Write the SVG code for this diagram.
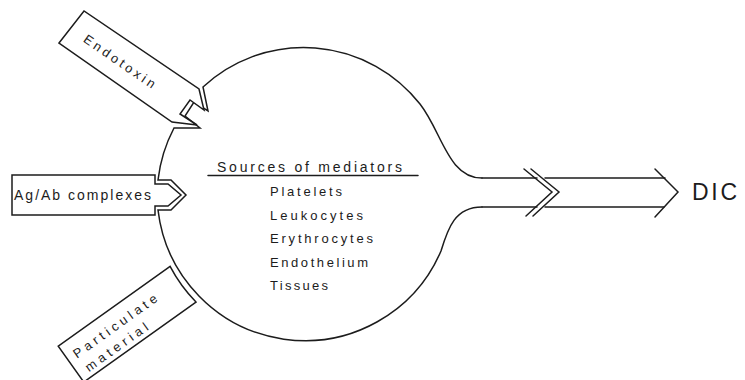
<svg xmlns="http://www.w3.org/2000/svg" width="745" height="380" viewBox="0 0 745 380">
<style>
.ln{fill:none;stroke:#1c1c1c;stroke-width:1.5;stroke-linejoin:miter;stroke-linecap:round}
.bx{fill:#fff;stroke:#1c1c1c;stroke-width:1.5;stroke-linejoin:miter}
.t{font-family:"Liberation Sans",Arial,sans-serif;font-size:13px;fill:#1c1c1c}
.t14{font-size:14px}
.big{font-size:23px}
</style>
<rect width="745" height="380" fill="#fff"/>
<g id="circle">
<path class="ln" d="M482,178 C448,178 442,132 420,104 A148,148 0 0 0 203,87 L208,111 L194,102 L185,116 L200,128 L174,128 A148,148 0 0 0 158,180 L171,180 L186,195 L171,210 L158,210 A148,148 0 0 0 441,251 C448,228 455,207 482,207"/>
<text class="t t14" x="217" y="172" textLength="185" lengthAdjust="spacing">Sources of mediators</text>
<line class="ln" x1="208" y1="175.5" x2="418" y2="175.5" stroke-width="1.3"/>
<text class="t" x="270" y="196" textLength="72" lengthAdjust="spacing">Platelets</text>
<text class="t" x="270" y="219.5" textLength="93" lengthAdjust="spacing">Leukocytes</text>
<text class="t" x="270" y="243" textLength="103" lengthAdjust="spacing">Erythrocytes</text>
<text class="t" x="270" y="266.5" textLength="98" lengthAdjust="spacing">Endothelium</text>
<text class="t" x="270" y="290" textLength="58" lengthAdjust="spacing">Tissues</text>
</g>
<g id="endotoxin">
<path class="bx" d="M59,43 L84,11 L199,89 L204,110 L190,100 L180,114 L197,125 L172,122 Z"/>
<text class="t" transform="translate(117,65) rotate(34.5)" text-anchor="middle" textLength="84" lengthAdjust="spacing">Endotoxin</text>
</g>
<g id="agab">
<path class="bx" d="M12,175 L155,175 L155,184 L168,184 L181,195 L168,206 L155,206 L155,215 L12,215 Z"/>
<text class="t t14" x="14" y="199.5" textLength="137" lengthAdjust="spacing">Ag/Ab complexes</text>
</g>
<g id="particulate" transform="translate(128,323.5) rotate(-35.5)">
<path class="bx" d="M67.4,-22 L-70,-22 L-70,22 L67.8,22 A151,151 0 0 1 67.4,-22 Z"/>
<text class="t" x="-62" y="-1" textLength="100" lengthAdjust="spacing">Particulate</text>
<text class="t" x="-60" y="17" textLength="74" lengthAdjust="spacing">material</text>
</g>
<g id="connectors">
<path class="ln" d="M482,178 L537,178 M545,178 L665,178 M482,207 L537,207 M545,207 L664,207"/>
<path class="ln" d="M524,169 L552,192 L526,216 M531,169 L559,192 L533,216"/>
<path class="ln" d="M655,169 L678,192 L655,217"/>
</g>
<g id="dic">
<text class="t big" x="692" y="200" textLength="45" lengthAdjust="spacing">DIC</text>
</g>
</svg>
